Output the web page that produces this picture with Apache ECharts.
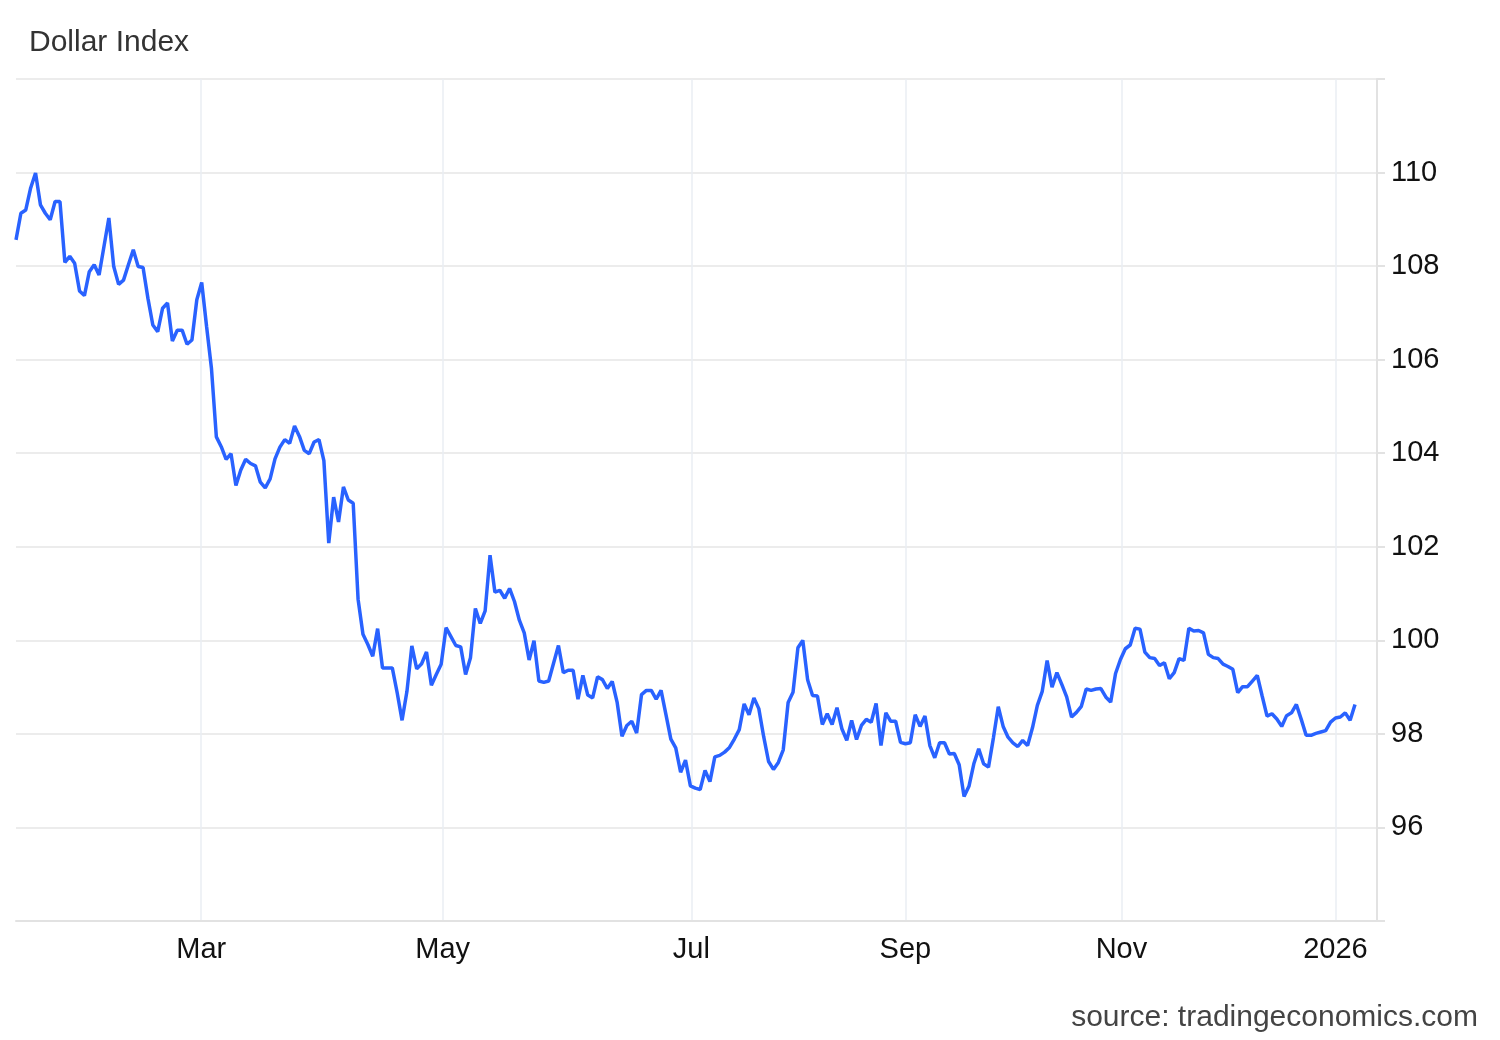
<!DOCTYPE html>
<html>
<head>
<meta charset="utf-8">
<script src="https://cdn.jsdelivr.net/npm/echarts@6/dist/echarts.min.js"></script>
<style>
html,body{margin:0;padding:0;background:#ffffff;}
#chart{width:1500px;height:1040px;}
</style>
</head>
<body>
<div id="chart"></div>
<script>
// Dollar Index daily closes (one value per trading day)
const dollarIndex = [
  108.56,109.13,109.20,109.67,109.99,109.31,109.13,108.99,109.38,109.38,
  108.08,108.21,108.06,107.47,107.37,107.88,108.03,107.81,108.42,109.03,
  107.99,107.61,107.70,108.03,108.35,107.99,107.97,107.31,106.74,106.60,
  107.10,107.21,106.40,106.63,106.63,106.33,106.42,107.28,107.65,106.71,
  105.81,104.35,104.14,103.87,103.99,103.31,103.64,103.87,103.78,
  103.73,103.38,103.26,103.45,103.88,104.13,104.29,104.21,104.58,104.36,
  104.06,103.99,104.24,104.29,103.84,102.08,103.06,102.53,103.28,103.00,
  102.93,100.88,100.13,99.91,99.66,100.25,99.41,99.41,99.41,98.88,
  98.29,98.91,99.88,99.39,99.50,99.75,99.04,99.27,99.49,100.27,
  100.08,99.89,99.86,99.27,99.63,100.68,100.36,
  100.63,101.82,101.03,101.07,100.90,101.11,100.83,100.43,100.16,99.58,
  99.99,99.13,99.10,99.13,99.51,99.89,99.31,99.36,99.36,98.74,
  99.25,98.83,98.77,99.22,99.16,98.97,99.12,98.68,97.95,98.18,
  98.27,98.02,98.84,98.93,98.93,98.74,98.93,98.41,97.89,97.70,
  97.18,97.44,96.89,96.84,96.81,97.22,96.98,97.51,97.54,
  97.61,97.71,97.89,98.09,98.64,98.41,98.77,98.54,97.94,97.41,
  97.24,97.39,97.66,98.67,98.89,99.84,100.00,99.15,98.82,98.81,
  98.20,98.43,98.20,98.56,98.11,97.86,98.29,97.88,98.18,98.31,
  98.25,98.65,97.75,98.45,98.27,98.27,97.82,97.79,97.81,98.41,
  98.16,98.38,97.75,97.49,97.81,97.81,97.57,97.58,97.34,96.66,
  96.88,97.36,97.68,97.36,97.29,97.91,98.58,98.16,97.93,97.81,
  97.73,97.86,97.75,98.13,98.61,98.91,99.57,99.00,99.31,99.06,
  98.79,98.36,98.46,98.59,98.96,98.93,98.96,98.97,98.79,98.68,
  99.29,99.59,99.82,99.90,100.26,100.24,99.75,99.63,99.61,99.46,
  99.52,99.18,99.31,99.61,99.57,100.26,100.20,100.21,100.16,
  99.70,99.63,99.61,99.49,99.44,99.38,98.88,99.01,99.01,99.13,
  99.25,98.81,98.38,98.43,98.32,98.16,98.39,98.45,98.63,98.31,
  97.97,97.97,98.01,98.04,98.07,98.25,98.34,98.36,98.45,98.29,
  98.63
];

// Month boundaries expressed in trading-day index units
const monthLabels = ['Mar', 'May', 'Jul', 'Sep', 'Nov', '2026'];
const monthPositions = [37.9, 87.3, 138.2, 182.0, 226.2, 270.0];

// Right-hand value axis labels
const yTickLabels = [96, 98, 100, 102, 104, 106, 108, 110];

const chart = echarts.init(document.getElementById('chart'), null, {renderer: 'canvas'});

const option = {
  animation: false,
  backgroundColor: '#ffffff',
  title: {
    text: 'Dollar Index',
    left: 24,
    top: 23,
    textStyle: {
      fontFamily: 'Liberation Sans, Arial, sans-serif',
      fontSize: 30,
      fontWeight: 'normal',
      color: '#333333'
    }
  },
  graphic: [{
    type: 'text',
    right: 22,
    top: 1003,
    style: {
      text: 'source: tradingeconomics.com',
      font: '30px "Liberation Sans", Arial, sans-serif',
      fill: '#444444'
    }
  }],
  grid: {
    left: 16,
    right: 123,
    top: 79,
    bottom: 119,
    containLabel: false
  },
  xAxis: {
    type: 'value',
    min: 0,
    max: 278.5,
    axisLine: {show: true, onZero: false, lineStyle: {color: '#e2e2e2', width: 2}},
    axisTick: {show: false, customValues: monthPositions},
    axisLabel: {
      customValues: monthPositions,
      margin: 14,
      fontFamily: 'Liberation Sans, Arial, sans-serif',
      fontSize: 29,
      color: '#111111',
      formatter: function (v) {
        let best = 0, d = Infinity;
        monthPositions.forEach(function (p, i) {
          if (Math.abs(p - v) < d) { d = Math.abs(p - v); best = i; }
        });
        return monthLabels[best];
      }
    },
    splitLine: {show: true, lineStyle: {color: '#eaeef3', width: 1.5}}
  },
  yAxis: {
    type: 'value',
    position: 'right',
    min: 94,
    max: 112,
    interval: 2,
    axisLine: {show: true, onZero: false, lineStyle: {color: '#e2e2e2', width: 2}},
    axisTick: {show: true, length: 8, lineStyle: {color: '#e2e2e2', width: 2}},
    axisLabel: {
      margin: 14,
      fontFamily: 'Liberation Sans, Arial, sans-serif',
      fontSize: 29,
      color: '#111111',
      formatter: function (v) {
        return yTickLabels.indexOf(v) >= 0 ? String(v) : '';
      }
    },
    splitLine: {show: true, lineStyle: {color: '#e6e6e6', width: 1.5}}
  },
  series: [{
    type: 'line',
    data: dollarIndex.map(function (v, i) { return [i, v]; }),
    symbol: 'none',
    smooth: false,
    lineStyle: {color: '#2962ff', width: 3.5},
    z: 5
  }]
};

chart.setOption(option);
</script>
</body>
</html>
